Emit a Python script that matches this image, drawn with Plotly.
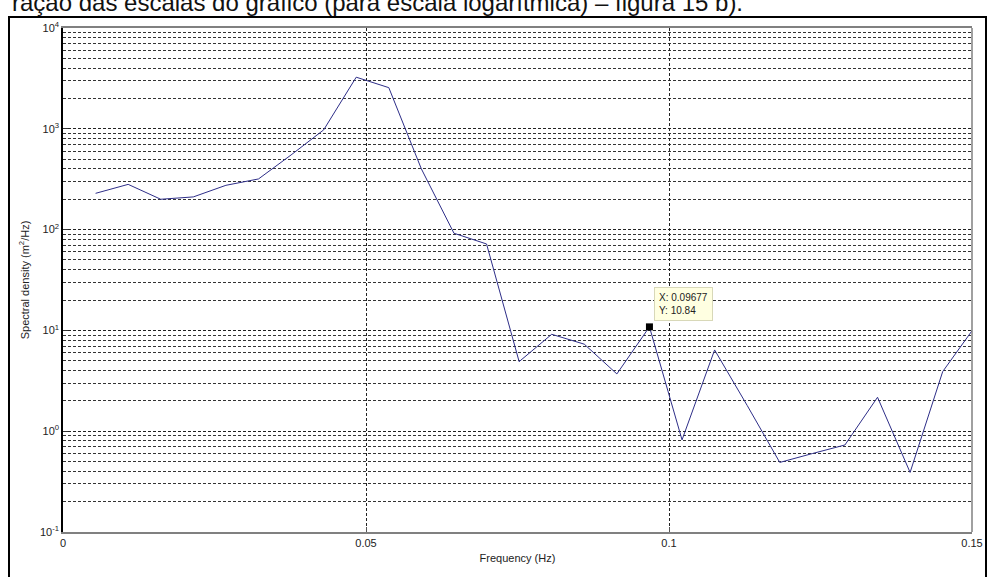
import math
import plotly.graph_objects as go

# Spectral density estimate (log scale) with one data-cursor readout
freq_hz = [0.005376, 0.010753, 0.016129, 0.021505, 0.026882, 0.032258, 0.037634,
           0.043011, 0.048387, 0.053763, 0.059140, 0.064516, 0.069892, 0.075269,
           0.080645, 0.086022, 0.091398, 0.096774, 0.102151, 0.107527, 0.112903,
           0.118280, 0.123656, 0.129032, 0.134409, 0.139785, 0.145161, 0.150538]
density = [229, 281, 200, 211, 275, 318, 550,
           975, 3250, 2560, 400, 92, 72, 4.9,
           9.15, 7.3, 3.7, 10.84, 0.82, 6.4, 1.8,
           0.49, 0.60, 0.73, 2.17, 0.39, 3.9, 11.0]
cursor_index = 17

x_ticks = [0, 0.05, 0.1, 0.15]
x_tick_text = ["0", "0.05", "0.1", "0.15"]
y_ticks = [0.1, 1, 10, 100, 1000, 10000]
y_tick_text = ["10<sup>-1</sup>", "10<sup>0</sup>", "10<sup>1</sup>",
               "10<sup>2</sup>", "10<sup>3</sup>", "10<sup>4</sup>"]

caption = "ração das escalas do gráfico (para escala logarítmica) – figura 15 b)."

W, H = 989, 577
ML, MR, MT, MB = 63, 17, 28, 45
PW, PH = W - ML - MR, H - MT - MB


def px_x(px):
    return (px - ML) / PW


def px_y(py):
    return (H - MB - py) / PH


FONT = "Liberation Sans, Arial, sans-serif"
GRID_DASH = "3px,2px"

fig = go.Figure()
fig.add_trace(go.Scatter(
    x=freq_hz, y=density, mode="lines",
    line=dict(color="#2E2E88", width=1), showlegend=False,
))
cx, cy = freq_hz[cursor_index], density[cursor_index]
fig.add_trace(go.Scatter(
    x=[cx], y=[cy], mode="markers",
    marker=dict(color="black", size=7, symbol="square"), showlegend=False,
))

# data-cursor tip (annotation y on a log axis is given in decades)
fig.add_annotation(
    x=cx, y=math.log10(cy), yref="y", xref="x",
    text=f"X: {cx:.4g}<br>Y: {cy:.4g}", showarrow=False,
    xanchor="left", yanchor="bottom", xshift=5, yshift=6, align="left",
    font=dict(family=FONT, size=10, color="#222"),
    bgcolor="#FFFFE1", bordercolor="#D8D8B8", borderwidth=1, borderpad=4,
)

# caption line running off the top of the page
fig.add_annotation(
    x=px_x(745), y=px_y(3), xref="paper", yref="paper",
    text=caption, showarrow=False, xanchor="right", yanchor="middle",
    font=dict(family=FONT, size=24, color="#111"),
)

# outer frame around the figure
fig.add_shape(
    type="rect", xref="paper", yref="paper",
    x0=px_x(9), x1=px_x(986), y0=px_y(600), y1=px_y(17),
    line=dict(color="black", width=2), fillcolor="rgba(0,0,0,0)", layer="above",
)
# right-hand box edge
fig.add_shape(
    type="line", xref="paper", yref="paper", x0=1, x1=1, y0=0, y1=1,
    line=dict(color="#808080", width=1.5), layer="above",
)

fig.update_layout(
    width=W, height=H,
    margin=dict(l=ML, r=MR, t=MT, b=MB),
    paper_bgcolor="white", plot_bgcolor="white",
    font=dict(family=FONT, size=11, color="#222"),
    xaxis=dict(
        range=[0, 0.15], tickvals=x_ticks, ticktext=x_tick_text,
        automargin=False,
        showline=True, linecolor="#808080", linewidth=1.5, mirror=True,
        ticks="inside", ticklen=5, tickcolor="#555",
        showgrid=True, gridcolor="#222", gridwidth=1, griddash=GRID_DASH,
        zeroline=False,
        title=dict(text="Frequency (Hz)", standoff=6, font=dict(size=11)),
    ),
    yaxis=dict(
        type="log", range=[-1, 4], tickvals=y_ticks, ticktext=y_tick_text,
        automargin=False,
        showline=True, linecolor="black", linewidth=1.5,
        ticks="inside", ticklen=5, tickcolor="#333",
        showgrid=True, gridcolor="#222", gridwidth=1, griddash=GRID_DASH,
        minor=dict(dtick="D1", showgrid=True, gridcolor="#333", gridwidth=1,
                   griddash=GRID_DASH, ticks="inside", ticklen=3, tickcolor="#333"),
        zeroline=False,
        title=dict(text="Spectral density (m<sup>2</sup>/Hz)", standoff=8,
                   font=dict(size=11)),
    ),
)

fig.write_html("out.html")
